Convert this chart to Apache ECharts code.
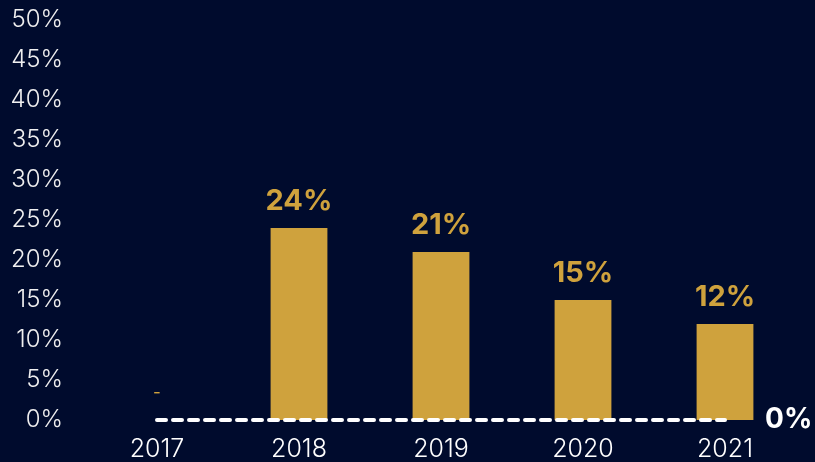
<!DOCTYPE html>
<html><head><meta charset="utf-8">
<script src="https://cdn.jsdelivr.net/npm/echarts@6/dist/echarts.min.js"></script>
<style>html,body{margin:0;padding:0;background:#000b2d;}#c{width:815px;height:462px;}</style>
</head><body><div id="c"></div>
<script>
const years = ['2017','2018','2019','2020','2021'];
const growth = [0, 24, 21, 15, 12];
const baseline = [0, 0, 0, 0, 0];
const yTicks = ['0%','5%','10%','15%','20%','25%','30%','35%','40%','45%','50%'];

const chart = echarts.init(document.getElementById('c'));
const font = 'Inter, "Noto Sans", sans-serif';
chart.setOption({
  backgroundColor: '#000b2d',
  animation: false,
  grid: {left: 86, right: 19, top: 20, bottom: 42, outerBoundsMode: 'none', containLabel: false},
  xAxis: {
    type: 'category', data: years,
    axisLine: {show: false}, axisTick: {show: false},
    axisLabel: {color: '#ffffff', fontSize: 25, fontWeight: 300, fontFamily: font, margin: 17}
  },
  yAxis: {
    type: 'value', min: 0, max: 50, interval: 5,
    splitLine: {show: false}, axisLine: {show: false}, axisTick: {show: false},
    axisLabel: {color: '#f0f0f0', fontSize: 24, fontWeight: 300, fontFamily: font, margin: 23,
      formatter: v => yTicks[Math.round(v / 5)]}
  },
  series: [
    {
      type: 'bar', barWidth: '40%',
      data: growth.map((v, i) => i === 0 ? {value: v, label: {formatter: '-', color: '#cfa23d', fontSize: 17, fontWeight: 'normal', distance: 19}} : v),
      itemStyle: {color: '#cfa23d'},
      label: {show: true, position: 'top', distance: 12, color: '#cfa23d', fontSize: 29, fontWeight: 'bold', fontFamily: font,
        formatter: p => p.value + '%'}
    },
    {
      type: 'line', data: baseline,
      symbol: 'none', z: 5,
      lineStyle: {color: '#ffffff', width: 4, type: [9, 7], cap: 'round'},
      endLabel: {show: true, distance: 40, color: '#ffffff', fontSize: 28, fontWeight: 'bold', fontFamily: font,
        formatter: p => p.value + '%'}
    }
  ]
});
</script></body></html>
